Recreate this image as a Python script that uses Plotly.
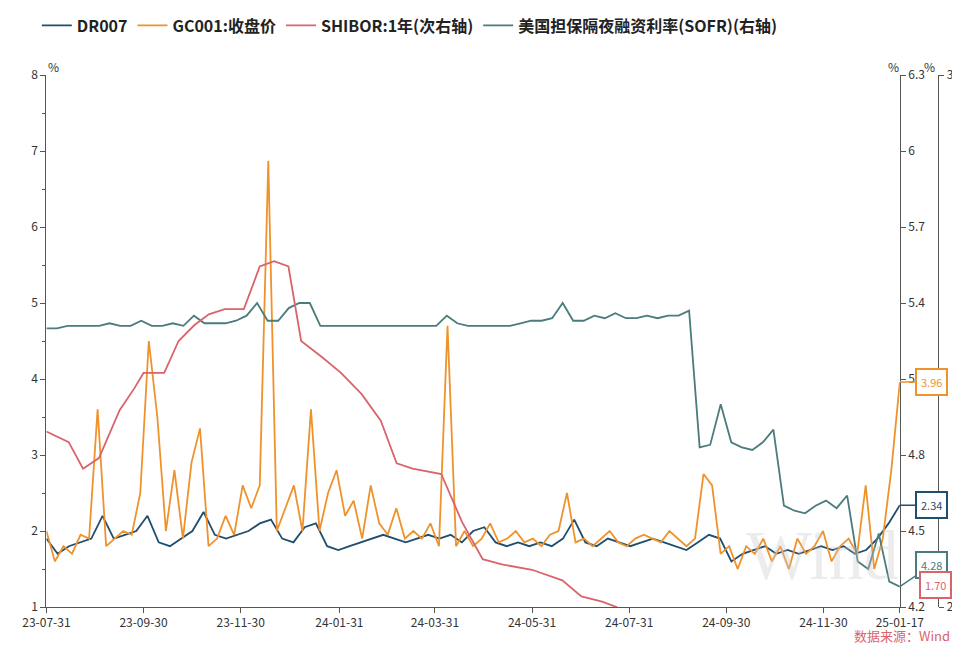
import plotly.graph_objects as go
import pandas as pd
import numpy as np

# weekly readings, Jul 2023 -> Jan 2025
start, end = pd.Timestamp('2023-07-31'), pd.Timestamp('2025-01-17')

dr007 = [1.9, 1.7, 1.8, 1.85, 1.9, 2.2, 1.9, 1.95, 2.0, 2.2, 1.85, 1.8, 1.9, 2.0, 2.25, 1.95,
         1.9, 1.95, 2.0, 2.1, 2.15, 1.9, 1.85, 2.05, 2.1, 1.8, 1.75, 1.8, 1.85, 1.9, 1.95, 1.9,
         1.85, 1.9, 1.95, 1.9, 1.95, 1.85, 2.0, 2.05, 1.85, 1.8, 1.85, 1.8, 1.85, 1.8, 1.9, 2.15,
         1.85, 1.8, 1.9, 1.85, 1.8, 1.85, 1.9, 1.85, 1.8, 1.75, 1.85, 1.95, 1.9, 1.6, 1.7, 1.75,
         1.8, 1.7, 1.75, 1.7, 1.75, 1.8, 1.75, 1.8, 1.7, 1.75, 1.9, 2.1, 2.34]

gc001 = [2.0, 1.6, 1.8, 1.7, 1.95, 1.9, 3.6, 1.8, 1.9, 2.0, 1.95, 2.5, 4.5, 3.5, 2.0, 2.8, 1.9,
         2.9, 3.35, 1.8, 1.9, 2.2, 1.95, 2.6, 2.3, 2.6, 6.87, 2.0, 2.3, 2.6, 2.0, 3.6, 2.0, 2.5, 2.8,
         2.2, 2.4, 1.9, 2.6, 2.1, 1.95, 2.3, 1.9, 2.0, 1.9, 2.1, 1.8, 4.7, 1.8, 2.0, 1.8, 1.9, 2.1,
         1.85, 1.9, 2.0, 1.85, 1.9, 1.8, 1.95, 2.0, 2.5, 1.85, 1.9, 1.8, 1.9, 2.0, 1.85, 1.8, 1.9,
         1.95, 1.9, 1.85, 2.0, 1.9, 1.8, 1.9, 2.75, 2.6, 1.7, 1.8, 1.5, 1.8, 1.7, 1.9, 1.6, 1.8, 1.5,
         1.9, 1.7, 1.8, 2.0, 1.6, 1.8, 1.9, 1.7, 2.6, 1.5, 1.9, 2.8, 3.96]

sofr = [5.30, 5.30, 5.31, 5.31, 5.31, 5.31, 5.32, 5.31, 5.31, 5.33, 5.31, 5.31, 5.32, 5.31, 5.35,
        5.32, 5.32, 5.32, 5.33, 5.35, 5.40, 5.33, 5.33, 5.38, 5.40, 5.40, 5.31, 5.31, 5.31, 5.31,
        5.31, 5.31, 5.31, 5.31, 5.31, 5.31, 5.31, 5.31, 5.35, 5.32, 5.31, 5.31, 5.31, 5.31, 5.31,
        5.32, 5.33, 5.33, 5.34, 5.40, 5.33, 5.33, 5.35, 5.34, 5.36, 5.34, 5.34, 5.35, 5.34, 5.35,
        5.35, 5.37, 4.83, 4.84, 5.00, 4.85, 4.83, 4.82, 4.85, 4.90, 4.60, 4.58, 4.57, 4.60, 4.62,
        4.59, 4.64, 4.38, 4.35, 4.49, 4.30, 4.28]

shibor_dates = ['2023-07-31', '2023-08-14', '2023-08-23', '2023-09-02', '2023-09-15', '2023-09-24',
                '2023-09-30', '2023-10-13', '2023-10-22', '2023-11-01', '2023-11-10', '2023-11-20',
                '2023-12-02', '2023-12-12', '2023-12-21', '2023-12-30', '2024-01-07', '2024-01-20',
                '2024-02-01', '2024-02-14', '2024-02-26', '2024-03-07', '2024-03-17', '2024-04-04',
                '2024-04-17', '2024-04-30', '2024-05-12', '2024-05-31', '2024-06-19', '2024-07-01',
                '2024-07-14', '2024-07-23', '2024-08-20', '2024-09-20', '2024-10-20', '2024-11-20',
                '2024-12-20', '2025-01-17']
shibor = [2.33, 2.31, 2.26, 2.28, 2.37, 2.41, 2.44, 2.44, 2.50, 2.53, 2.55, 2.56, 2.56, 2.64, 2.65,
          2.64, 2.50, 2.47, 2.44, 2.40, 2.35, 2.27, 2.26, 2.25, 2.16, 2.09, 2.08, 2.07, 2.05, 2.02,
          2.01, 2.00, 1.93, 1.90, 1.88, 1.85, 1.78, 1.70]

tick_dates = ['2023-07-31', '2023-09-30', '2023-11-30', '2024-01-31', '2024-03-31', '2024-05-31',
              '2024-07-31', '2024-09-30', '2024-11-30', '2025-01-17']
tick_text = ['23-07-31', '23-09-30', '23-11-30', '24-01-31', '24-03-31', '24-05-31',
             '24-07-31', '24-09-30', '24-11-30', '25-01-17']


def spread(vals):
    return pd.to_datetime(np.linspace(start.value, end.value, len(vals)))


c_dr, c_gc, c_sh, c_so = '#1f4e6e', '#f0922b', '#d9646b', '#4b7b7d'

fig = go.Figure()
fig.add_trace(go.Scatter(x=spread(dr007), y=dr007, name='DR007', line=dict(color=c_dr, width=1.8)))
fig.add_trace(go.Scatter(x=spread(gc001), y=gc001, name='GC001:收盘价', line=dict(color=c_gc, width=1.8)))
fig.add_trace(go.Scatter(x=shibor_dates, y=shibor, name='SHIBOR:1年(次右轴)', yaxis='y3',
                         line=dict(color=c_sh, width=1.8)))
fig.add_trace(go.Scatter(x=spread(sofr), y=sofr, name='美国担保隔夜融资利率(SOFR)(右轴)', yaxis='y2',
                         line=dict(color=c_so, width=1.8)))

axis_common = dict(showgrid=False, zeroline=False, showline=True, linecolor='#555', ticks='outside',
                   ticklen=5, tickcolor='#555', tickfont=dict(size=12, color='#333'), automargin=False)
fig.update_layout(
    width=960, height=659, plot_bgcolor='white', paper_bgcolor='white',
    font=dict(family='Noto Sans CJK SC, Noto Sans', color='#333'),
    margin=dict(l=0, r=0, t=64, b=60),
    showlegend=True,
    legend=dict(orientation='h', x=0.03, y=1.125, xanchor='left', yanchor='top',
                font=dict(size=16, color='#222', weight='bold'), itemwidth=30),
    xaxis=dict(domain=[0.04, 0.929], type='date', range=[start, end], tickvals=tick_dates,
               ticktext=tick_text, **axis_common),
    yaxis=dict(range=[1, 8], dtick=1, minor=dict(ticks='outside', dtick=0.5, ticklen=3), **axis_common),
    yaxis2=dict(range=[4.2, 6.3], tickvals=[4.2, 4.5, 4.8, 5.1, 5.4, 5.7, 6, 6.3],
                ticktext=['4.2', '4.5', '4.8', '5', '5.4', '5.7', '6', '6.3'],
                overlaying='y', side='right', anchor='x', **axis_common),
    yaxis3=dict(range=[2, 3], tickvals=[2, 3], overlaying='y', side='right', anchor='free',
                position=0.969, **axis_common),
)

ann = [dict(text='%', x=0.04, y=1.035, xref='paper', yref='paper', showarrow=False, font=dict(size=12)),
       dict(text='%', x=0.93, y=1.035, xref='paper', yref='paper', showarrow=False, font=dict(size=12)),
       dict(text='%', x=0.968, y=1.035, xref='paper', yref='paper', showarrow=False, font=dict(size=12)),
       dict(text='Wind', x=0.93, y=0.02, xref='paper', yref='paper', showarrow=False,
            font=dict(size=70, color='rgba(200,200,200,0.35)', family='Arial Black')),
       dict(text='数据来源：Wind', x=0.983, y=-0.075, xref='paper', yref='paper', showarrow=False,
            xanchor='right', font=dict(size=13, color='#d9646b'))]
for val, col, ref, ay in [(gc001[-1], c_gc, 'y', 0), (dr007[-1], c_dr, 'y', 0), (sofr[-1], c_so, 'y2', -22)]:
    ann.append(dict(text='%.2f' % val, x=end, y=val, xref='x', yref=ref, ax=32, ay=ay,
                    showarrow=True, arrowcolor=col, arrowwidth=1.5, arrowhead=0,
                    bordercolor=col, borderwidth=2, borderpad=4, bgcolor='white',
                    font=dict(size=11, color=col)))
ann.append(dict(text='%.2f' % shibor[-1], x=0.983, y=0.015, xref='paper', yref='paper', showarrow=False,
                xanchor='right', bordercolor=c_sh, borderwidth=2, borderpad=4, bgcolor='white',
                font=dict(size=11, color=c_sh)))
fig.update_layout(annotations=ann)

fig.write_html('out.html')
